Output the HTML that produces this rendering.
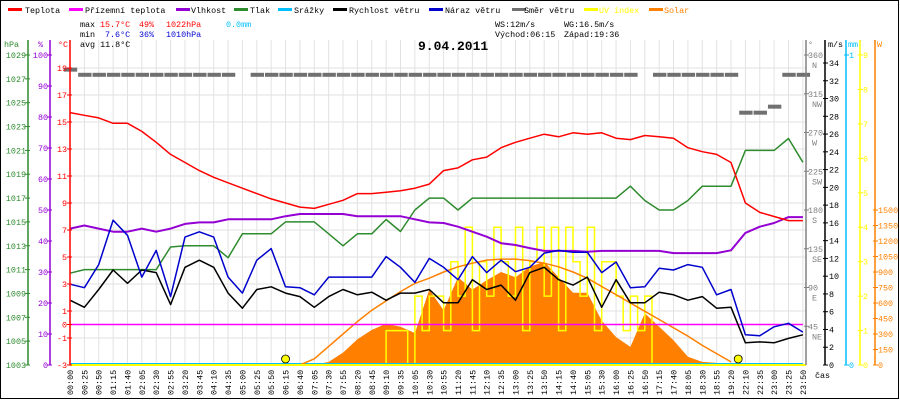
<!DOCTYPE html>
<html><head><meta charset="utf-8"><style>
body{margin:0;background:#fff;}
svg{display:block;font-family:"Liberation Mono","DejaVu Sans Mono",monospace;}
</style></head><body>
<svg id="chart" width="900" height="400" viewBox="0 0 900 400" xmlns="http://www.w3.org/2000/svg">
<rect x="0.5" y="0.5" width="898" height="398" fill="#fff" stroke="#000"/>
<g id="grid"></g>
<g id="series"></g>
<g id="axes"></g>
<g font-size="8.4">
<g><rect x="8" y="8" width="14" height="3" fill="#f00"/><text x="25" y="13">Teplota</text></g>
<g><rect x="69" y="8" width="14" height="3" fill="#f0f"/><text x="85" y="13">Přízemní teplota</text></g>
<g><rect x="176" y="8" width="14" height="3" fill="#9400d3"/><text x="191" y="13">Vlhkost</text></g>
<g><rect x="234" y="8" width="14" height="3" fill="#2e8b2e"/><text x="250" y="13">Tlak</text></g>
<g><rect x="278" y="8" width="14" height="3" fill="#00bfff"/><text x="294" y="13">Srážky</text></g>
<g><rect x="333" y="8" width="14" height="3" fill="#000"/><text x="349" y="13">Rychlost větru</text></g>
<g><rect x="429" y="8" width="14" height="3" fill="#0000cd"/><text x="445" y="13">Náraz větru</text></g>
<g><rect x="512" y="8" width="14" height="3" fill="#707070"/><text x="524" y="13">Směr větru</text></g>
<g><rect x="584" y="8" width="14" height="3" fill="#ff0"/><text x="599" y="13" fill="#ff0">UV index</text></g>
<g><rect x="649" y="8" width="14" height="3" fill="#ff8000"/><text x="664" y="13" fill="#ff8000">Solar</text></g>
</g>
<g font-size="8.4">
<text x="80" y="27">max</text><text x="100" y="27" fill="#f00">15.7°C</text><text x="139" y="27" fill="#f00">49%</text><text x="166" y="27" fill="#f00">1022hPa</text><text x="226" y="27" fill="#00bfff">0.0mm</text>
<text x="80" y="37">min</text><text x="105" y="37" fill="#0000cd">7.6°C</text><text x="139" y="37" fill="#0000cd">36%</text><text x="166" y="37" fill="#0000cd">1010hPa</text>
<text x="80" y="47">avg 11.8°C</text>
<text x="495" y="27">WS:12m/s</text><text x="564" y="27">WG:16.5m/s</text>
<text x="495" y="37">Východ:06:15</text><text x="564" y="37">Západ:19:36</text>
</g>
<text x="418" y="50" font-size="13" font-weight="bold">9.04.2011</text>
</svg>
<script>
const timeLabels=["00:00","00:25","00:50","01:15","01:40","02:05","02:30","02:55","03:20","03:45","04:10","04:35","05:00","05:25","05:50","06:15","06:40","07:05","07:30","07:55","08:20","08:45","09:10","09:35","10:05","10:30","10:55","11:20","11:45","12:10","12:35","13:00","13:25","13:50","14:15","14:40","15:05","15:30","16:00","16:25","16:50","17:15","17:40","18:05","18:30","18:55","19:20","22:10","22:35","23:00","23:25","23:50"];
const temperature=[15.7,15.5,15.3,14.9,14.9,14.3,13.5,12.6,12.0,11.4,10.9,10.5,10.1,9.7,9.3,9.0,8.7,8.6,8.9,9.2,9.7,9.7,9.8,9.9,10.1,10.4,11.4,11.6,12.2,12.4,13.1,13.5,13.8,14.1,13.9,14.2,14.1,14.2,13.8,13.7,14.0,13.9,13.8,13.1,12.8,12.6,12.0,9.0,8.3,8.0,7.7,7.7];
const groundTemp=[0,0,0,0,0,0,0,0,0,0,0,0,0,0,0,0,0,0,0,0,0,0,0,0,0,0,0,0,0,0,0,0,0,0,0,0,0,0,0,0,0,0,0,0,0,0,0,0,0,0,0,0];
const humidity=[44,45,44,43,43,44,43,44,45.5,46,46,47,47,47,47,48,48.7,48.7,48.7,48.7,48,48,48,48,47,46,45.8,44.6,43,41.4,39.3,38.7,37.7,36.8,36.8,36.8,36.5,36.8,36.8,36.8,36.8,36.8,36.1,36.1,36.1,36.1,37,42.6,44.6,45.8,47.7,47.7];
const pressure=[1010.7,1011,1011,1011,1011,1011,1011,1012.9,1013,1013,1013,1012,1014,1014,1014,1015,1015,1015,1014,1013,1014,1014,1015.2,1014.2,1016,1017,1017,1016,1017,1017,1017,1017,1017,1017,1017,1017,1017,1017,1017,1018,1016.8,1016,1016,1016.8,1018,1018,1018,1021,1021,1021,1022,1020];
const windSpeed=[7.3,6.5,8.5,10.7,9.2,10.7,10.4,6.8,11,11.8,11,8.1,6.4,8.5,8.8,8.1,7.7,6.5,7.7,8.5,7.9,8.2,7.3,8.1,8.1,8.5,7.0,7.0,9.6,8.5,9,7.3,10.4,11,9.6,9,9.9,6.5,9.6,7,7,8.2,7.9,7.3,7.7,6.4,6.5,2.5,2.6,2.5,3.0,3.4];
const windGust=[9.1,8.7,11.3,16.3,14.6,9.9,12.9,7.7,14.4,15,14.4,9.9,8.1,11.8,13.1,8.8,8.7,7.9,9.9,9.9,9.9,9.9,12.2,11,9.3,12,11,9.6,12.2,10.4,11.8,10.5,11,12.6,12.9,12.7,12.7,10.4,11.6,8.7,8.8,10.9,10.7,11.3,11,7.9,8.5,3.4,3.3,4.3,4.7,3.7];
const windDir=[343,337,337,337,337,337,337,337,337,337,337,337,null,337,337,337,337,337,337,337,337,337,337,337,337,337,337,337,337,337,337,337,337,337,337,337,337,337,337,337,null,337,337,337,337,337,337,293,293,300,337,337];
const solar=[0,0,0,0,0,0,0,0,0,0,0,0,0,0,0,0,0,0,30,120,250,340,400,370,310,730,530,850,730,820,900,850,950,1000,850,700,700,430,270,175,500,370,240,80,30,20,0,0,0,0,0,0];
const solarTheory=[null,null,null,null,null,null,null,null,null,null,null,null,null,null,null,null,0,60,180,300,420,530,620,710,790,840,900,950,985,1015,1025,1025,1010,985,950,900,840,760,680,600,520,440,360,280,190,110,30,null,null,null,null,null];
const uvIndex=[0,0,0,0,0,0,0,0,0,0,0,0,0,0,0,0,0,0,0,0,0,0,0,0,0,0,0,0,0,0,0,0,0,0,0,0,0,0,0,0,0,0,0,0,1,1,1,0,2,1,2,2,1,3,2,4,1,3,2,4,3,2,4,1,3,4,2,4,1,4,3,2,4,1,3,3,2,1,2,1,2,0,0,0,0,0,0,0,0,0,0,0,0,0,0,0,0,0,0,0,0,0,0];
const rainMm=[0,0,0,0,0,0,0,0,0,0,0,0,0,0,0,0,0,0,0,0,0,0,0,0,0,0,0,0,0,0,0,0,0,0,0,0,0,0,0,0,0,0,0,0,0,0,0,0,0,0,0,0];
const tempTicks=[19,17,15,13,11,9,7,5,3,1,0,-1,-3];
const hpaTicks=[1029,1027,1025,1023,1021,1019,1017,1015,1013,1011,1009,1007,1005,1003];
const humTicks=[100,90,80,70,60,50,40,30,20,10,0];
const dirTicks=[360,315,270,225,180,135,90,45];
const dirNames=["N","NW","W","SW","S","SE","E","NE"];
const msTicks=[34,32,30,28,26,24,22,20,18,16,14,12,10,8,6,4,2,0];
const uvTicks=[9,8,7,6,5,4,3,2,1,0];
const wTicks=[1500,1350,1200,1050,900,750,600,450,300,150,0];

const NS="http://www.w3.org/2000/svg";
const X0=70,DX=14.37,YB=365,YT=55,FS=8.4;
const xs=i=>X0+i*DX;
const yT=t=>324.5-t*13.5;
const yH=h=>YB-h*3.1;
const yP=p=>YB-(p-1003)*(YB-YT)/26;
const yD=d=>YB-d*(YB-YT)/360;
const yM=v=>YB-v*(365-63)/34;
const yS=w=>YB-w*(365-210)/1500;
const yU=u=>YB-u*(YB-YT)/9;
function el(tag,attrs,parent){const e=document.createElementNS(NS,tag);for(const k in attrs)e.setAttribute(k,attrs[k]);parent.appendChild(e);return e;}
const grid=document.getElementById('grid'),ser=document.getElementById('series'),ax=document.getElementById('axes');

timeLabels.forEach((t,i)=>{
  const gl=el('line',{x1:xs(i),x2:xs(i),y1:40,y2:YB,stroke:'#e2e2e2'},grid);
  
  
  const tx=el('text',{x:0,y:0,'font-size':FS,transform:`translate(${xs(i)+3},395) rotate(-90)`},ax);
  tx.textContent=t;
  
  
});
tempTicks.forEach(t=>{
  if(t!==0){const gl=el('line',{x1:X0,x2:806,y1:yT(t),y2:yT(t),stroke:'#e2e2e2'},grid);
  
  }
});

function line(arr,yf,color,w,name,step){
  let d='',pen=false;
  arr.forEach((v,i)=>{if(v===null){pen=false;return;}const x=xs(i*(step||1)),y=yf(v);d+=(pen?'L':'M')+x.toFixed(1)+','+y.toFixed(1);pen=true;});
  const p=el('path',{d:d,fill:'none',stroke:color,'stroke-width':w,'stroke-linejoin':'round'},ser);
  
  
}
{let d='M'+xs(0)+','+YB;solar.forEach((v,i)=>{d+='L'+xs(i).toFixed(1)+','+yS(v).toFixed(1);});d+='L'+xs(solar.length-1)+','+YB+'Z';
const p=el('path',{d:d,fill:'#ff8000',stroke:'none'},ser);

}
{let d='';uvIndex.forEach((v,i)=>{const x=xs(i*0.5),y=yU(v);d+=(i?'H'+x.toFixed(1)+'V'+y.toFixed(1):'M'+x+','+y);});
const p=el('path',{d:d,fill:'none',stroke:'#ff0','stroke-width':1.5},ser);

}
line(rainMm,v=>YB-1-v*310,'#00bfff',2,'rain-line');
line(solarTheory,yS,'#ff8000',1.5,'solar-theory-line');
line(groundTemp,yT,'#f0f',1.5,'ground-temp-line');
line(pressure,yP,'#2e8b2e',1.5,'pressure-line');
line(humidity,yH,'#9400d3',2,'humidity-line');
line(windSpeed,yM,'#000',1.5,'wind-speed-line');
line(windGust,yM,'#0000cd',1.5,'wind-gust-line');
line(temperature,yT,'#f00',1.5,'temperature-line');
windDir.forEach((v,i)=>{if(v===null)return;
  const r=el('rect',{x:xs(i)-DX/2+1,y:yD(v)-2,width:DX-1,height:4,fill:'#707070'},ser);
  
  });
[[15,'sunrise-marker'],[46.5,'sunset-marker']].forEach(([i,n])=>{
  const c=el('circle',{cx:xs(i),cy:359,r:4,fill:'#ff0',stroke:'#000','stroke-width':0.8},ser);
  
  });
el('line',{x1:X0,x2:806,y1:YB,y2:YB,stroke:'#ff0','stroke-width':2},ser);

function axis(x,color,ticks,yf,labelX,anchor,name,tickDir,extra){
  const g=el('g',{fill:color,'font-size':FS},ax);
  
  
  el('line',{x1:x,x2:x,y1:40,y2:YB,stroke:color,'stroke-width':1.5},g);
  ticks.forEach((t,k)=>{const y=yf(t);
    el('line',{x1:x+(tickDir<0?-3:-2),x2:x+(tickDir<0?2:3),y1:y,y2:y,stroke:color},g);
    const tx=el('text',{x:labelX,y:y+3,'text-anchor':anchor},g);tx.textContent=t;
    if(extra){const t2=el('text',{x:labelX+4,y:y+13},g);t2.textContent=extra[k];}
  });
}
axis(28,'#2e8b2e',hpaTicks,yP,26,'end','axis-hpa',-1);
axis(50,'#9400d3',humTicks,yH,48,'end','axis-humidity',-1);
axis(70,'#f00',tempTicks,yT,67,'end','axis-temperature',-1);
axis(806,'#808080',dirTicks,yD,808,'start','axis-wind-direction',1,dirNames);
axis(825,'#000',msTicks,yM,829,'start','axis-wind-speed',1);
axis(846,'#00bfff',[1,0],v=>v?YT:YB,849,'start','axis-rain',1);
axis(860,'#ff0',uvTicks,yU,863,'start','axis-uv',1);
axis(875,'#ff8000',wTicks,yS,878,'start','axis-solar',1);
[[4,'hPa','#2e8b2e'],[38,'%','#9400d3'],[58,'°C','#f00'],[808,'°','#808080'],[828,'m/s','#000'],[848,'mm','#00bfff'],[877,'W','#ff8000'],[815,'čas','#000']].forEach(([x,t,c],k)=>{
  const tx=el('text',{x:x,y:k===7?378:47,'font-size':FS,fill:c},ax);tx.textContent=t;
  
  
});
</script>
</body></html>
